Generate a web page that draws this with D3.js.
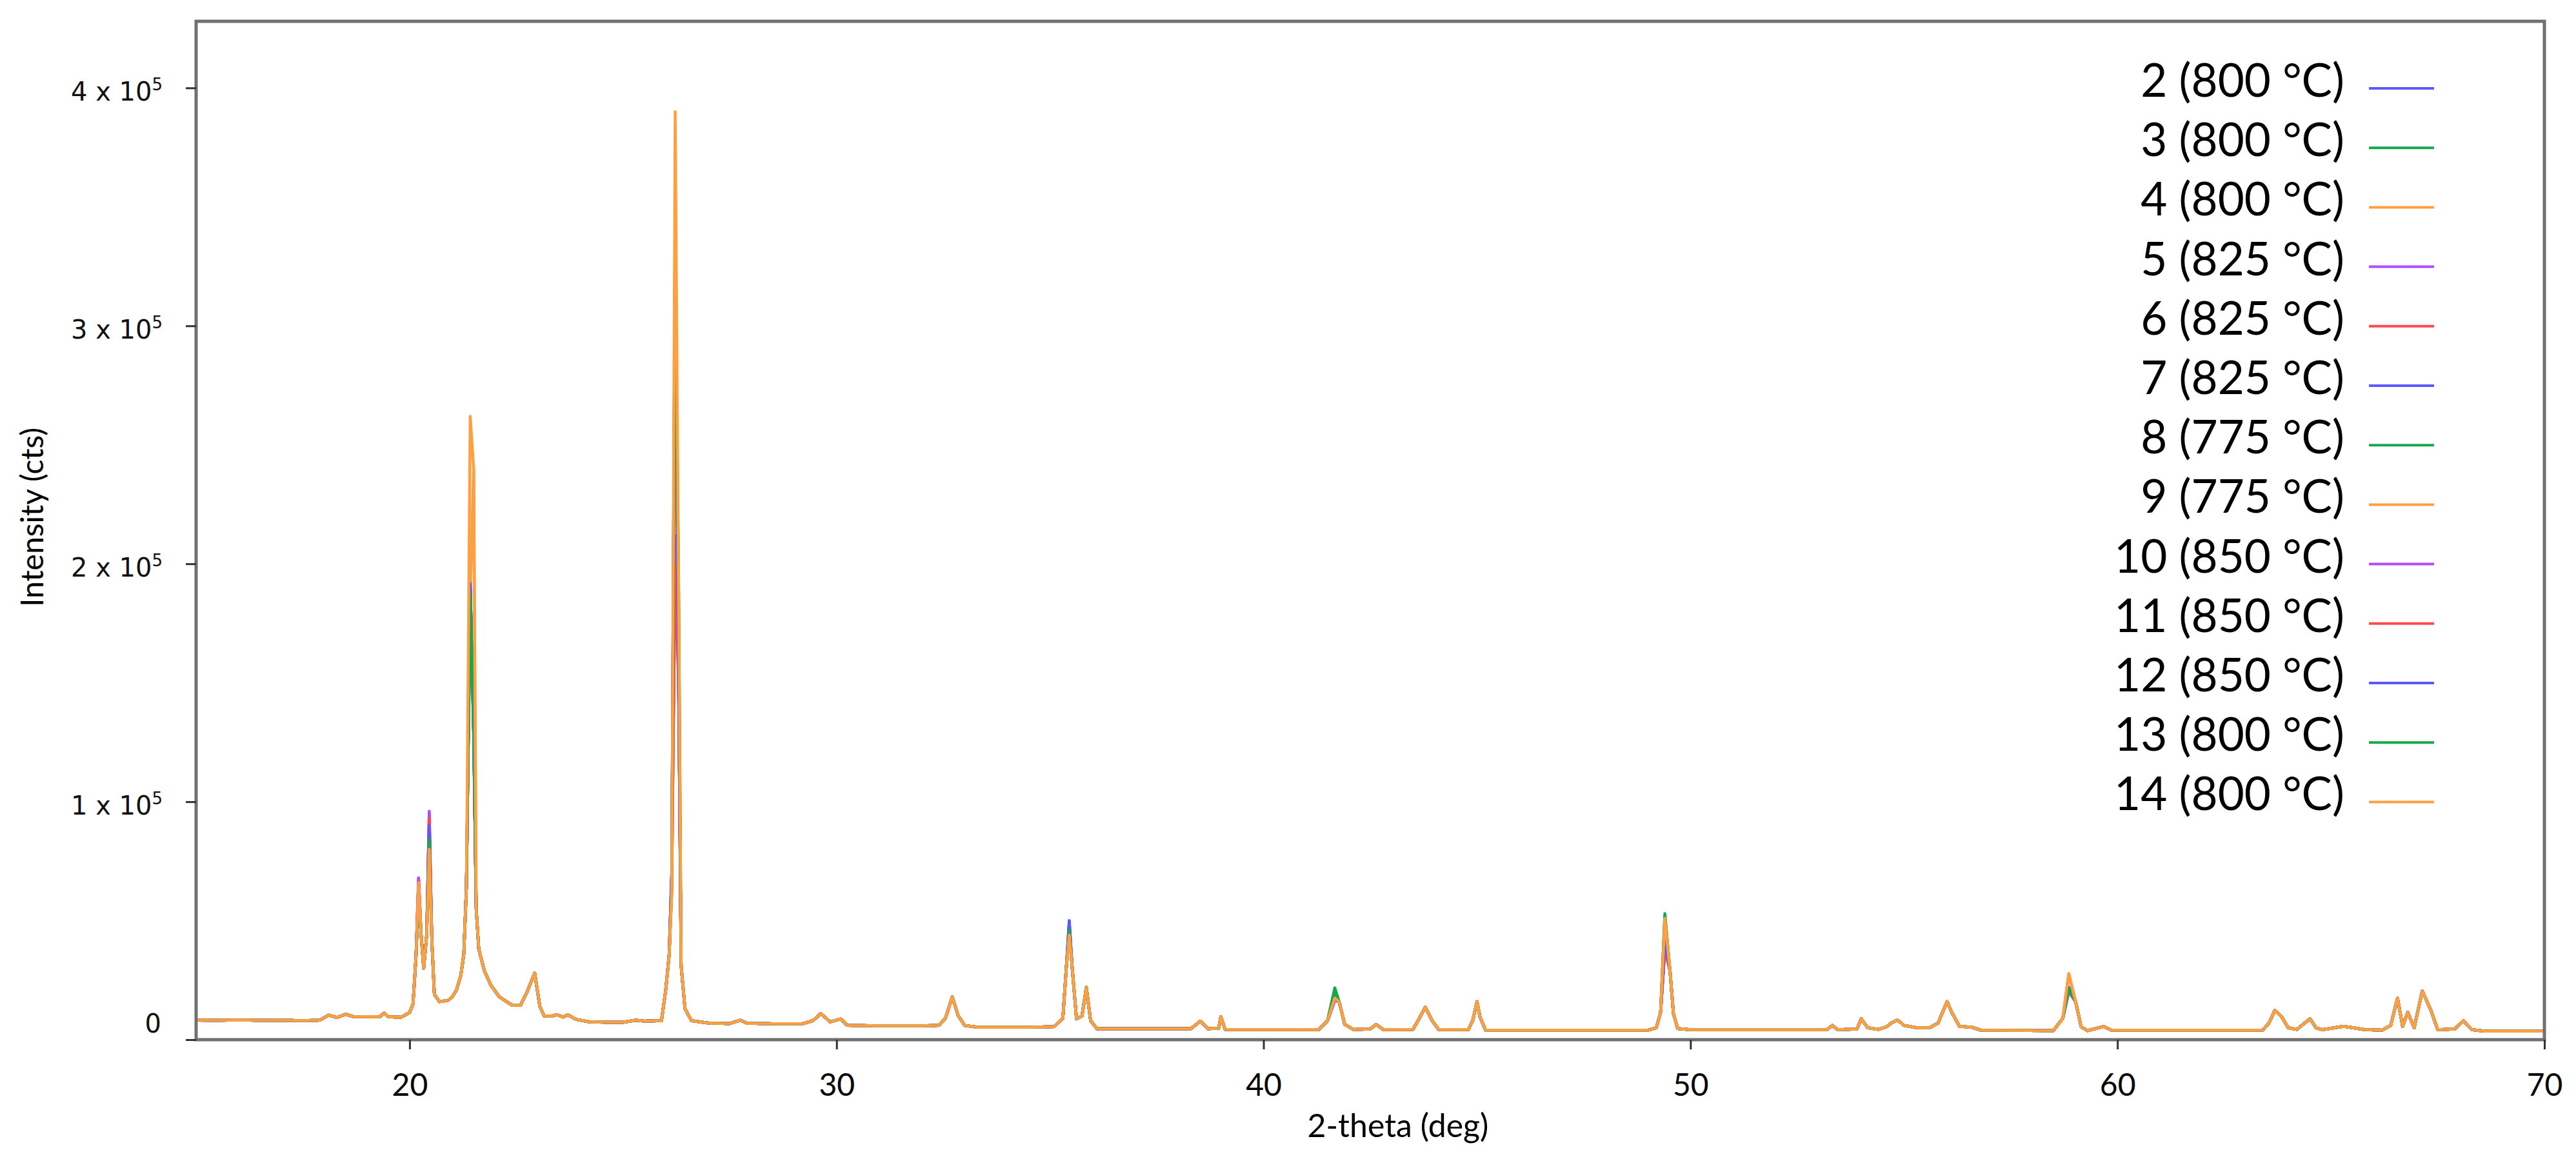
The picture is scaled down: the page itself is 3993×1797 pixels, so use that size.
<!DOCTYPE html>
<html>
<head>
<meta charset="utf-8">
<script src="https://cdn.jsdelivr.net/npm/d3@7"></script>
<style>
  body { margin: 0; background: #fff; }
  svg { display: block; }
</style>
</head>
<body>
<div id="chart"></div>
<script>
// 2-theta positions of the shared XRD profile (deg)
const twoTheta = [
  15.0, 15.5, 16.0, 16.5, 17.0, 17.5, 17.9, 18.1, 18.3, 18.5, 18.7, 19.0, 19.3, 19.4, 19.5, 19.8,
  20.0, 20.08, 20.15, 20.21, 20.27, 20.33, 20.40, 20.46, 20.52, 20.58, 20.7, 20.9, 21.0, 21.1, 21.2,
  21.27, 21.33, 21.42, 21.50, 21.56, 21.62, 21.75, 21.9, 22.1, 22.4, 22.6, 22.75, 22.93, 23.05, 23.15,
  23.3, 23.45, 23.6, 23.7, 23.9, 24.2, 24.6, 25.0, 25.3, 25.5, 25.9, 26.0, 26.08, 26.14, 26.22, 26.30,
  26.36, 26.45, 26.6, 27.0, 27.5, 27.75, 27.9, 28.5, 29.2, 29.45, 29.63, 29.85, 30.1, 30.25, 31.0,
  32.0, 32.4, 32.55, 32.71, 32.85, 33.0, 33.3, 34.5, 35.1, 35.3, 35.38, 35.45, 35.52, 35.62, 35.75,
  35.85, 35.95, 36.1, 37.5, 38.3, 38.52, 38.7, 38.95, 39.0, 39.1, 41.3, 41.5, 41.67, 41.77, 41.9,
  42.1, 42.5, 42.64, 42.8, 43.5, 43.65, 43.79, 43.95, 44.1, 44.8, 44.9, 45.0, 45.07, 45.2, 49.0,
  49.2, 49.3, 49.40, 49.52, 49.6, 49.7, 50.0, 53.2, 53.32, 53.45, 53.9, 54.0, 54.15, 54.4, 54.6,
  54.7, 54.85, 55.0, 55.3, 55.6, 55.8, 56.01, 56.12, 56.3, 56.6, 56.8, 58.5, 58.72, 58.86, 59.02,
  59.15, 59.3, 59.68, 59.85, 63.4, 63.55, 63.69, 63.85, 64.0, 64.2, 64.51, 64.65, 64.8, 65.3, 65.8,
  66.2, 66.4, 66.56, 66.68, 66.8, 66.95, 67.14, 67.35, 67.5, 67.9, 68.1, 68.3, 68.6, 70.0
];

// Counts of the shared profile (cts)
const baseCounts = [
  8200, 8100, 8300, 8100, 8200, 8000, 8200, 10300, 9300, 10700, 9600, 9700, 9600, 11200, 9600, 9400,
  11400, 15000, 35000, 66000, 44000, 30000, 44000, 85000, 42000, 19000, 16000, 16500, 18000, 21000, 27000,
  36000, 64000, 190000, 131000, 55000, 38000, 29000, 23000, 18000, 14500, 14500, 20000, 28000, 14000, 10000,
  9800, 10500, 9500, 10500, 8500, 7500, 7300, 7300, 8200, 7800, 8000, 21000, 36000, 66000, 330000, 155000,
  31000, 13000, 8000, 7000, 6800, 8200, 6900, 6700, 6700, 8000, 11000, 7500, 8700, 6000, 5800,
  5800, 6000, 9000, 18000, 10000, 6000, 5200, 5200, 5500, 9000, 30000, 46000, 30000, 8700, 10000,
  22000, 8000, 4600, 4600, 4600, 7800, 4600, 4800, 9600, 4300, 4300, 8000, 17500, 16000, 6500,
  4300, 4500, 6400, 4300, 4300, 9000, 13700, 8000, 4300, 4300, 8000, 16000, 9600, 4000, 4000,
  5000, 11500, 45000, 29000, 11000, 4700, 4200, 4200, 6000, 4200, 4500, 8800, 5000, 4300, 5500,
  7000, 8300, 6000, 5000, 5000, 7000, 16000, 11500, 5600, 5200, 4000, 3800, 9000, 22000, 16000,
  5400, 3800, 5600, 4000, 4000, 7000, 12400, 9500, 5000, 4300, 8800, 5000, 4200, 5600, 4200,
  4000, 6000, 17400, 5600, 11500, 5000, 20500, 12000, 4200, 4500, 7900, 4200, 3600, 3600
];

// Apex positions where the samples differ (deg)
const peakAngles = [20.21, 20.46, 21.42, 21.50, 26.14, 26.22, 26.30, 35.45, 41.67, 49.40, 58.86];

const seriesNames = [
  "2 (800 °C)", "3 (800 °C)", "4 (800 °C)", "5 (825 °C)", "6 (825 °C)", "7 (825 °C)", "8 (775 °C)",
  "9 (775 °C)", "10 (850 °C)", "11 (850 °C)", "12 (850 °C)", "13 (800 °C)", "14 (800 °C)"
];

const seriesColors = [
  "#5a5aff", "#15a84c", "#ffa040", "#b04dff", "#ff4a4a", "#5a5aff", "#15a84c",
  "#ffa040", "#b04dff", "#ff4a4a", "#5a5aff", "#15a84c", "#ffa040"
];

// Apex counts per sample, one row per series, columns follow peakAngles
const peakCounts = [
  [64000, 88000, 190000, 131000, 71000, 342000, 155000, 50000, 17000, 42000, 22000],
  [62000, 86000, 188000, 132000, 65000, 330000, 190000, 46000, 21800, 53000, 21000],
  [66000, 82000, 186000, 129000, 62000, 330000, 152000, 44000, 17500, 51000, 27800],
  [68000, 95000, 191000, 130000, 68000, 210000, 152000, 47000, 16500, 38000, 20000],
  [67000, 92000, 189000, 131000, 66000, 205000, 150000, 45000, 17000, 39000, 21000],
  [63000, 89000, 190000, 130000, 69000, 336000, 155000, 48000, 16800, 40000, 22000],
  [61000, 85000, 187000, 132000, 64000, 332000, 154000, 46000, 19000, 50000, 21500],
  [65000, 83000, 186000, 240000, 63000, 338000, 150000, 44000, 17200, 51000, 27000],
  [68000, 96000, 192000, 130000, 70000, 212000, 155000, 49000, 16600, 39000, 20500],
  [66000, 93000, 189000, 129000, 67000, 200000, 151000, 45000, 17000, 38000, 21000],
  [62000, 90000, 191000, 131000, 70000, 340000, 153000, 50000, 16900, 42000, 22000],
  [60000, 84000, 187000, 133000, 64000, 328000, 190000, 46000, 21000, 52000, 21500],
  [66000, 80000, 262000, 240000, 62000, 390000, 190000, 44000, 17500, 51000, 27800]
];

const xTicks = [20, 30, 40, 50, 60, 70];
const yTicks = [0, 1, 2, 3, 4];

const config = {
  width: 3993,
  height: 1797,
  left: 304,
  right: 3944,
  top: 33,
  bottom: 1612
};

const svg = d3.select("#chart")
  .append("svg")
  .attr("width", config.width)
  .attr("height", config.height);

const x = d3.scaleLinear().domain([15, 70]).range([config.left, config.right]);
const y = d3.scaleLinear().domain([0, 428000]).range([config.bottom, config.top]);

// build each sample: shared profile with its own apex values
const series = seriesNames.map((name, i) => {
  const counts = baseCounts.slice();
  peakAngles.forEach((a, j) => {
    const idx = twoTheta.indexOf(a);
    if (idx >= 0) counts[idx] = peakCounts[i][j];
  });
  return {
    name: name,
    color: seriesColors[i],
    values: twoTheta.map((t, k) => ({ t: t, c: counts[k] }))
  };
});

svg.append("clipPath").attr("id", "plot-clip")
  .append("rect")
  .attr("x", config.left)
  .attr("y", config.top)
  .attr("width", config.right - config.left)
  .attr("height", config.bottom - config.top);

const line = d3.line()
  .x(d => x(d.t))
  .y(d => y(d.c));

svg.append("g")
  .attr("clip-path", "url(#plot-clip)")
  .selectAll("path")
  .data(series)
  .join("path")
  .attr("d", d => line(d.values))
  .attr("fill", "none")
  .attr("stroke", d => d.color)
  .attr("stroke-width", 4.5)
  .attr("stroke-linejoin", "round");

// frame
svg.append("rect")
  .attr("x", config.left)
  .attr("y", config.top)
  .attr("width", config.right - config.left)
  .attr("height", config.bottom - config.top)
  .attr("fill", "none")
  .attr("stroke", "#707070")
  .attr("stroke-width", 5);

// x axis
const xAxis = svg.append("g")
  .attr("transform", `translate(0,${config.bottom})`)
  .call(d3.axisBottom(x).tickValues(xTicks).tickSize(15).tickPadding(38).tickFormat(d3.format("d")));
xAxis.select(".domain").remove();
xAxis.selectAll(".tick line").attr("stroke", "#333").attr("stroke-width", 3);
xAxis.selectAll(".tick text")
  .attr("fill", "#000")
  .style("font-family", "Lato, 'Open Sans', sans-serif")
  .style("font-size", "48px");

// y axis with "n x 10^5" labels
const yAxis = svg.append("g")
  .attr("transform", `translate(${config.left},0)`)
  .call(d3.axisLeft(y).tickValues(yTicks.map(d => d * 1e5)).tickSize(16).tickFormat(""));
yAxis.select(".domain").remove();
yAxis.selectAll(".tick line").attr("stroke", "#333").attr("stroke-width", 3);

const yLabels = svg.append("g")
  .style("font-family", "'DejaVu Sans', Verdana, sans-serif")
  .attr("fill", "#111");

yTicks.forEach(n => {
  const ty = y(n * 1e5);
  if (n === 0) {
    yLabels.append("text")
      .attr("x", 250)
      .attr("y", ty - 11)
      .attr("text-anchor", "end")
      .style("font-size", "40px")
      .text("0");
  } else {
    const t = yLabels.append("text")
      .attr("x", 252)
      .attr("y", ty + 20)
      .attr("text-anchor", "end")
      .style("font-size", "40px");
    t.append("tspan").text(`${n} x 10`);
    t.append("tspan")
      .attr("dy", -16)
      .style("font-size", "26px")
      .text("5");
  }
});

// axis titles
svg.append("text")
  .attr("x", 2167)
  .attr("y", 1763)
  .attr("text-anchor", "middle")
  .style("font-family", "Lato, 'Open Sans', sans-serif")
  .style("font-size", "50px")
  .text("2-theta (deg)");

svg.append("text")
  .attr("transform", "translate(67,802) rotate(-90)")
  .attr("text-anchor", "middle")
  .style("font-family", "Lato, 'Open Sans', sans-serif")
  .style("font-size", "48px")
  .text("Intensity (cts)");

// legend
const legend = svg.append("g").attr("class", "legend");
const legendItems = legend.selectAll("g")
  .data(series)
  .join("g")
  .attr("transform", (d, i) => `translate(0,${137 + i * 92.2})`);

legendItems.append("line")
  .attr("x1", 3672)
  .attr("x2", 3773)
  .attr("stroke", d => d.color)
  .attr("stroke-width", 4);

legendItems.append("text")
  .attr("x", 3634)
  .attr("y", 13)
  .attr("text-anchor", "end")
  .style("font-family", "Lato, 'Open Sans', sans-serif")
  .style("font-size", "71px")
  .attr("fill", "#000")
  .text(d => d.name);
</script>
</body>
</html>
